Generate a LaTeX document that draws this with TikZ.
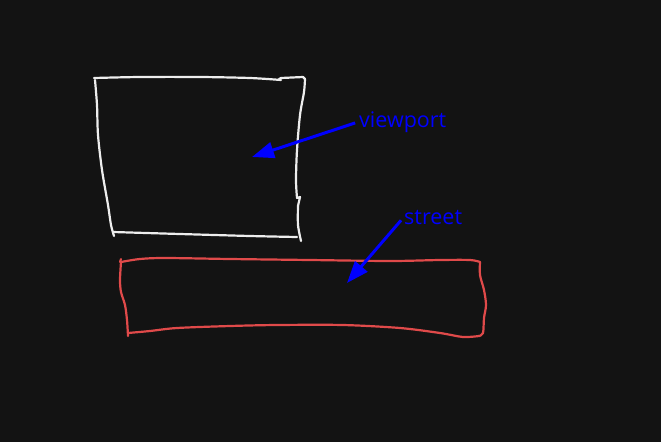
\documentclass[tikz,border=0pt]{standalone}
\usepackage{fontspec}
\newfontfamily\labfont{Open Sans}
\usetikzlibrary{arrows.meta}
\definecolor{bg}{HTML}{131313}
\definecolor{sketchwhite}{HTML}{EDEDED}
\definecolor{sketchred}{HTML}{E04A4A}
\definecolor{labelblue}{HTML}{0000FF}
\tikzset{
  whiteline/.style={draw=sketchwhite, line width=2.2pt, line cap=round, line join=round},
  redline/.style={draw=sketchred, line width=2.2pt, line cap=round, line join=round},
  bluearrow/.style={draw=labelblue, line width=3pt, shorten <=3pt, -{Triangle[length=22pt,width=16pt]}},
  lbl/.style={text=labelblue, font=\labfont\fontsize{21.5}{26}\selectfont, inner sep=1pt, anchor=west}
}
\begin{document}
\begin{tikzpicture}[x=1pt,y=-1pt]
\fill[bg] (0,0) rectangle (661,442);
\useasboundingbox (0,0) rectangle (661,442);
% white viewport sketch
\draw[whiteline] plot[smooth, tension=0.5] coordinates {(94,78) (140,77) (200,77) (250,78) (281,80)};
\draw[whiteline] (279,79) -- (281,78) -- (303,77) -- (305,79);
\draw[whiteline] plot[smooth, tension=0.5] coordinates {(305,79) (304,92) (300,115) (297,150) (296,180) (297,198)};
\draw[whiteline] (297,198) -- (300,197) -- (298,206);
\draw[whiteline] plot[smooth, tension=0.5] coordinates {(298,206) (298,225) (301,241)};
\draw[whiteline] plot[smooth, tension=0.5] coordinates {(297,237) (250,236) (180,234) (113,232)};
\draw[whiteline] plot[smooth, tension=0.5] coordinates {(114,236) (111,225) (108,205) (102,170) (98,135) (97,105) (95,80)};
% red street sketch
\draw[redline] (121,259) -- (120,262);
\draw[redline] plot[smooth, tension=0.5] coordinates {(121,262) (140,259) (165,258) (230,259) (310,260) (390,261) (440,260) (470,260) (480,262)};
\draw[redline] plot[smooth, tension=0.5] coordinates {(480,262) (480,275) (484,290) (486,305) (484,318) (483,333) (479,336)};
\draw[redline] plot[smooth, tension=0.5] coordinates {(479,336) (463,337) (440,333) (400,328) (343,325) (277,325) (230,326) (177,328) (150,331) (128,333)};
\draw[redline] plot[smooth, tension=0.5] coordinates {(128,336) (127,320) (125,305) (121,292) (120,280) (121,262)};
% labels and arrows
\node[lbl] (vlabel) at (358,122) {viewport};
\node[lbl] (slabel) at (403,218) {street};
\coordinate (vtip) at (252,157);
\coordinate (stip) at (347,283);
\draw[bluearrow] (vlabel.west) -- (vtip);
\draw[bluearrow] (slabel.west) -- (stip);
\end{tikzpicture}
\end{document}
